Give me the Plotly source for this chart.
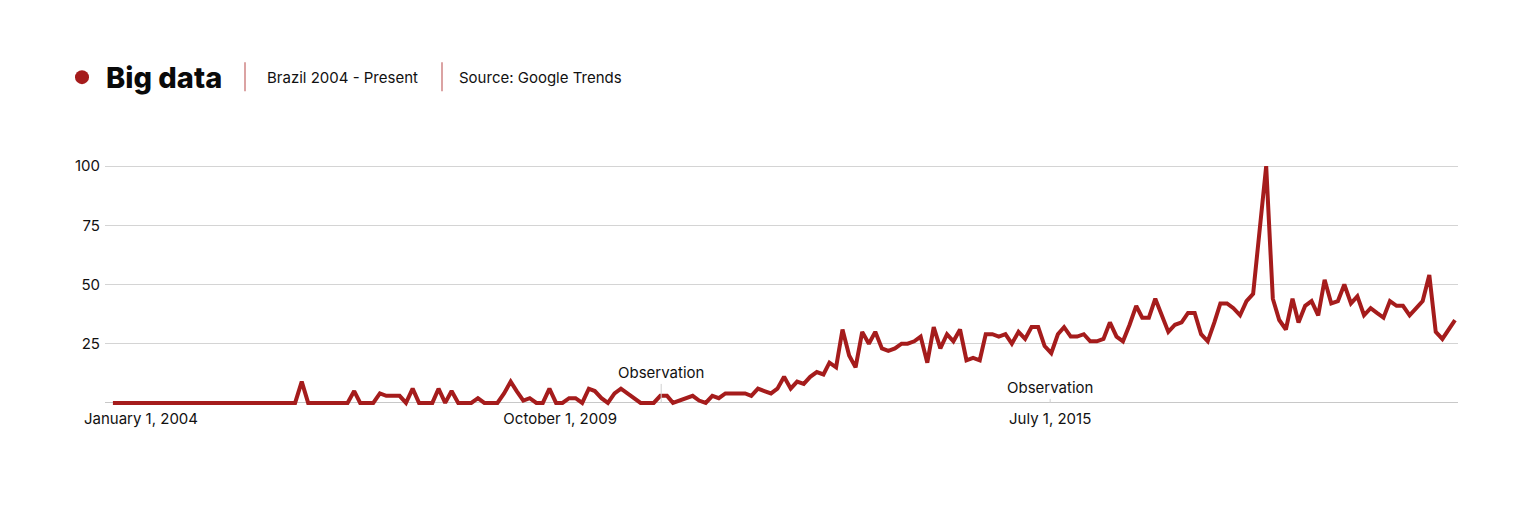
import plotly.graph_objects as go
import pandas as pd

# ---------------- data ----------------
months = pd.date_range("2004-01-01", periods=207, freq="MS")
interest = [
    0, 0, 0, 0, 0, 0, 0, 0, 0, 0, 0, 0, 0, 0, 0, 0, 0, 0, 0, 0,
    0, 0, 0, 0, 0, 0, 0, 0, 0, 9, 0, 0, 0, 0, 0, 0, 0, 5, 0, 0,
    0, 4, 3, 3, 3, 0, 6, 0, 0, 0, 6, 0, 5, 0, 0, 0, 2, 0, 0, 0,
    4, 9, 5, 1, 2, 0, 0, 6, 0, 0,
    2, 2, 0, 6, 5, 2, 0, 4, 6, 4,
    2, 0, 0, 0, 3, 3, 0, 1, 2, 3,
    1, 0, 3, 2, 4, 4, 4, 4, 3, 6,
    5, 4, 6, 11, 6, 9, 8, 11, 13, 12,
    17, 15, 31, 20, 15, 30, 25, 30, 23, 22,
    23, 25, 25, 26, 28, 17, 32, 23, 29, 26,
    31, 18, 19, 18, 29, 29, 28, 29, 25, 30,
    27, 32, 32, 24, 21, 29, 32, 28, 28, 29,
    26, 26, 27, 34, 28, 26, 33, 41, 36, 36,
    44, 37, 30, 33, 34, 38, 38, 29, 26, 34,
    42, 42, 40, 37, 43, 46, 73, 100, 44, 35,
    31, 44, 34, 41, 43, 37, 52, 42, 43, 50,
    42, 45, 37, 40, 38, 36, 43, 41, 41, 37,
    40, 43, 54, 30, 27, 31, 35,
]
y_ticks = [25, 50, 75, 100]
x_tick_dates = ["2004-05-11", "2009-09-20", "2015-12-27"]
x_tick_labels = ["January 1, 2004", "October 1, 2009", "July 1, 2015"]
obs_dates = ["2011-01-05", "2015-12-27"]
obs_text = ["Observation", "Observation"]
obs_offsets = [-30, -15]

title = "Big data"
subtitle = "Brazil 2004 - Present"
source = "Source: Google Trends"

# ---------------- style ----------------
RED = "#a51c1c"
DIV = "#cf8585"
FONT = "Inter, 'Open Sans', sans-serif"
INK = "#111111"
W, H = 1528, 512
L, R = 105, 1458      # plot area left/right (px)
T, B = 158.9, 410.1   # plot area top/bottom (px)


def pxx(p):
    return (p - L) / (R - L)


def pxy(p):
    return (B - p) / (B - T)


fig = go.Figure()
fig.add_trace(go.Scatter(
    x=months, y=interest, mode="lines",
    line=dict(color=RED, width=4, shape="linear"),
    hoverinfo="x+y", showlegend=False,
))

fig.update_layout(
    width=W, height=H, autosize=False,
    margin=dict(l=L, r=W - R, t=T, b=H - B, pad=0),
    plot_bgcolor="white", paper_bgcolor="white",
    font=dict(family=FONT, size=15, color=INK),
    showlegend=False,
)
fig.update_xaxes(
    range=["2003-11-25", "2021-03-15"],
    tickmode="array", tickvals=x_tick_dates, ticktext=x_tick_labels,
    showgrid=False, showline=False, zeroline=False, ticks="",
    tickfont=dict(size=15, color=INK, family=FONT),
    ticklabelstandoff=-2,
)
fig.update_yaxes(
    range=[-3, 103],
    tickmode="array", tickvals=y_ticks,
    showgrid=True, gridcolor="#d4d4d4", gridwidth=1,
    zeroline=True, zerolinecolor="#c8c8c8", zerolinewidth=1,
    showline=False, ticks="",
    tickfont=dict(size=15, color=INK, family=FONT),
    ticklabelstandoff=4,
)

# Observation markers
for d, t, off in zip(obs_dates, obs_text, obs_offsets):
    fig.add_annotation(
        x=d, y=0, xref="x", yref="y", text=t,
        showarrow=True, arrowhead=0, arrowwidth=1, arrowcolor="#cfcfcf",
        ax=0, ay=off, font=dict(size=15, color=INK, family=FONT),
        standoff=0,
    )

# Header
fig.add_shape(type="circle", xref="paper", yref="paper",
              x0=pxx(75), x1=pxx(89), y0=pxy(84), y1=pxy(70),
              fillcolor=RED, line=dict(width=0))
fig.add_annotation(x=pxx(104), y=pxy(77), xref="paper", yref="paper",
                   xanchor="left", yanchor="middle", showarrow=False,
                   text=title,
                   font=dict(size=29, color="#0a0a0a", family=FONT, weight=800))
for xv in (245, 442):
    fig.add_shape(type="line", xref="paper", yref="paper",
                  x0=pxx(xv), x1=pxx(xv), y0=pxy(62), y1=pxy(91),
                  line=dict(color=DIV, width=1.5))
fig.add_annotation(x=pxx(265), y=pxy(77), xref="paper", yref="paper",
                   xanchor="left", yanchor="middle", showarrow=False,
                   text=subtitle, font=dict(size=15, color=INK, family=FONT))
fig.add_annotation(x=pxx(457), y=pxy(77), xref="paper", yref="paper",
                   xanchor="left", yanchor="middle", showarrow=False,
                   text=source, font=dict(size=15, color=INK, family=FONT))

fig.write_html("out.html",
               config={"displayModeBar": False},
               post_script="document.body.style.margin='0';document.body.style.overflow='hidden';")
